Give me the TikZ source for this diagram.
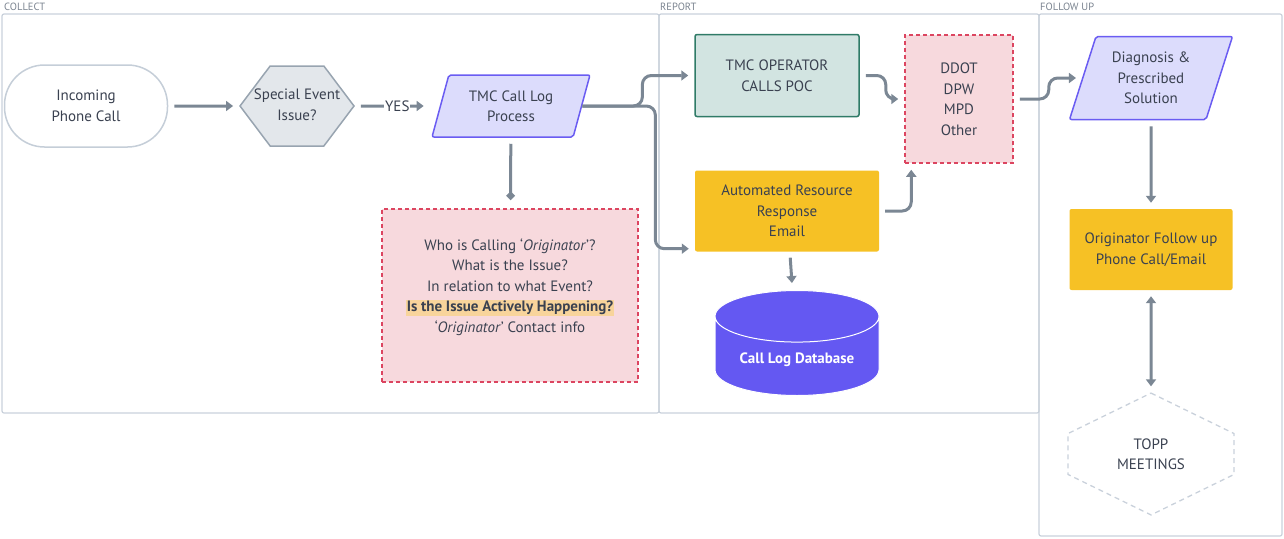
\documentclass[tikz,border=0pt]{standalone}
\usepackage{fontspec}
\setmainfont{PT Sans}
\usepackage{xcolor}
\definecolor{mylane}{HTML}{C9D1DB}
\definecolor{mylabel}{HTML}{7B8490}
\definecolor{mytext}{HTML}{3A4150}
\definecolor{myarrow}{HTML}{7B8794}
\definecolor{mystadium}{HTML}{C5CED8}
\definecolor{mygreyfill}{HTML}{E3E7EB}
\definecolor{mygreyline}{HTML}{98A4B0}
\definecolor{mylavender}{HTML}{DCDCFC}
\definecolor{myviolet}{HTML}{6A5CF2}
\definecolor{mypink}{HTML}{F7D9DD}
\definecolor{myred}{HTML}{DC4560}
\definecolor{myteal}{HTML}{D2E4E1}
\definecolor{mytealline}{HTML}{2F7B67}
\definecolor{myyellow}{HTML}{F6C125}
\definecolor{myhighlight}{HTML}{F8D49B}
\definecolor{mydb}{HTML}{6458F2}
\usetikzlibrary{arrows.meta,shapes.geometric,shapes.symbols,positioning}

\begin{document}
\begin{tikzpicture}[
  x=1pt,
  y=-1pt,
  font=\fontsize{15}{20.5}\selectfont,
  text=mytext,
  lane/.style={
    draw=mylane,
    line width=1.2pt,
    rounded corners=2pt
    },
  lanelabel/.style={
    anchor=west,
    inner sep=0pt,
    text=mylabel,
    font=\fontsize{10.5}{12}\selectfont
    },
  terminal/.style={
    draw=mystadium,
    line width=1.5pt,
    fill=white,
    rounded corners=40pt,
    minimum width=163pt,
    minimum height=82pt,
    align=center
    },
  decision/.style={
    signal,
    signal to=east and west,
    signal pointer angle=106,
    draw=mygreyline,
    line width=1.5pt,
    fill=mygreyfill,
    minimum width=114pt,
    minimum height=80pt,
    inner sep=0pt
    },
  io/.style={
    trapezium,
    trapezium left angle=70,
    trapezium right angle=110,
    trapezium stretches=true,
    draw=myviolet,
    line width=1.5pt,
    fill=mylavender,
    rounded corners=2pt,
    inner sep=0pt,
    align=center
    },
  note/.style={
    draw=myred,
    line width=1.5pt,
    dash pattern=on 4pt off 3pt,
    fill=mypink,
    inner sep=0pt,
    align=center
    },
  task/.style={
    fill=myyellow,
    rounded corners=2pt,
    inner sep=0pt,
    align=center
    },
  db/.style={
    cylinder,
    shape border rotate=90,
    aspect=0.45,
    draw=white,
    line width=1pt,
    fill=mydb,
    text=white,
    font=\fontsize{15}{20.5}\selectfont\bfseries,
    minimum width=164pt,
    minimum height=105pt,
    inner sep=0pt
    },
  meeting/.style={
    signal,
    signal to=north and south,
    signal pointer angle=128,
    draw=mylane,
    line width=1.3pt,
    dash pattern=on 5pt off 4pt,
    minimum width=166pt,
    minimum height=74pt,
    inner sep=0pt,
    align=center
    },
  conn/.style={
    draw=myarrow,
    line width=3pt,
    -{Triangle[length=7pt,width=10pt]},
    shorten >=6pt,
    shorten <=6pt
    },
  yes/.style={
    fill=white,
    inner sep=1pt
    }
]

\useasboundingbox (0,0) rectangle (1284,538);

\draw[lane] (2,14) rectangle (659,413);
\draw[lane] (659,14) rectangle (1039,413);
\draw[lane] (1039,14) rectangle (1282,536);
\node[lanelabel] (lcollect) at (4,7) {COLLECT};
\node[lanelabel] (lreport) at (660,7) {REPORT};
\node[lanelabel] (lfollow) at (1040,7) {FOLLOW UP};

\node[terminal] (call) at (86,106) {Incoming\\Phone Call};
\node[decision] (event) at (297,106)
  {\makebox[0pt]{\begin{tabular}{@{}c@{}}Special Event\\Issue?\end{tabular}}};
\node[io, minimum width=158pt, minimum height=62pt] (log) at (511,106) {TMC Call Log\\Process};
\node[note, minimum width=256pt, minimum height=173pt] (ask) at (510,295.5)
  {Who is Calling ‘\textit{Originator}’?\\
   What is the Issue?\\
   In relation to what Event?\\
   {\setlength{\fboxsep}{1pt}\colorbox{myhighlight}{\textbf{Is the Issue Actively Happening?}}}\\
   ‘\textit{Originator}’ Contact info\\
   \mbox{}};

\node[draw=mytealline, line width=1.5pt, fill=myteal, rounded corners=2pt,
  minimum width=164pt, minimum height=82pt, align=center] (operator) at (777,75.5) {TMC OPERATOR\\CALLS POC};
\node[note, minimum width=108pt, minimum height=128pt] (agency) at (959,99) {DDOT\\DPW\\MPD\\Other};
\node[task, minimum width=184pt, minimum height=81pt] (email) at (787,211) {Automated Resource\\Response\\Email};
\node[db, anchor=north] (database) at (797,290) {\raisebox{-17pt}{Call Log Database}};

\node[io, minimum width=163pt, minimum height=83pt] (diag) at (1151,78) {Diagnosis \&\\Prescribed\\Solution};
\node[task, minimum width=163pt, minimum height=81pt] (origin) at (1151,249.5) {Originator Follow up\\Phone Call/Email};
\node[meeting] (topp) at (1151,454) {TOPP\\MEETINGS};

\draw[conn] (call) -- (event);
\draw[conn, shorten >=16pt] (event) -- node[yes] (yeslabel) {YES} (log);
\draw[conn, -{Diamond[length=9pt,width=9pt]}, shorten >=8pt] (log) -- (ask);
\draw[conn, rounded corners=9pt, shorten <=0pt] (log.east) -- ++(60,0) |- (operator.west);
\draw[conn, rounded corners=9pt, shorten <=0pt] (log.east) -- ++(73,0) |- ([yshift=3pt]email.south west);
\draw[conn, rounded corners=9pt] (operator.east) -- ++(26,0) |- (agency.west);
\draw[conn, rounded corners=9pt] (email.east) -| ([xshift=7pt]agency.south west);
\draw[conn, shorten >=7pt] (email) -- (database);
\draw[conn, rounded corners=9pt] (agency.east) -- ++(35,0) |- (diag.west);
\draw[conn] (diag) -- (origin);
\draw[conn, {Triangle[length=7pt,width=10pt]}-{Triangle[length=7pt,width=10pt]}] (origin) -- (topp);

\end{tikzpicture}
\end{document}
